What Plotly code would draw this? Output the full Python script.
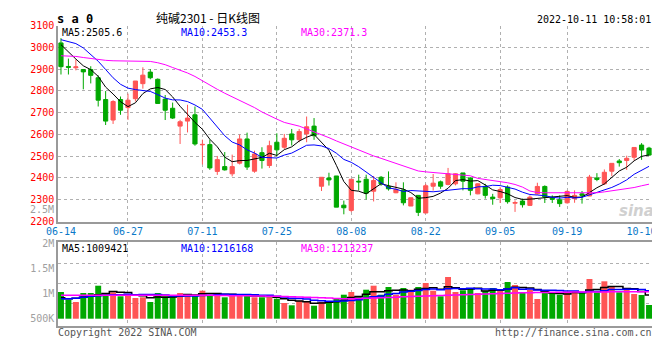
import plotly.graph_objects as go

# ---------------- data ----------------
date_labels = ["06-14", "06-27", "07-11", "07-25", "08-08", "08-22", "09-05", "09-19", "10-10"]
date_index = [0, 9, 19, 29, 39, 49, 59, 68, 78]
grid_index = [9, 19, 29, 39, 49, 59, 68]

open_ = [3020, 2912, 2906, 2898, 2898, 2860, 2760, 2666, 2760, 2723,
         2764, 2833, 2886, 2853, 2762, 2720, 2638, 2661, 2690, 2552,
         2553, 2430, 2452, 2419, 2468, 2579, 2431, 2516, 2457, 2564,
         2541, 2602, 2576, 2602, 2638, 2362, 2400, 2409, 2275, 2251,
         2385, 2394, 2339, 2403, 2361, 2332, 2345, 2271, 2320, 2239,
         2362, 2382, 2370, 2373, 2423, 2400, 2327, 2361, 2312, 2309,
         2358, 2284, 2294, 2274, 2327, 2361, 2308, 2300, 2286, 2305,
         2327, 2317, 2400, 2373, 2431, 2478, 2480, 2495, 2551, 2537]
high = [3042, 2948, 2944, 2900, 2913, 2871, 2799, 2757, 2774, 2787,
        2845, 2908, 2900, 2857, 2781, 2746, 2667, 2736, 2728, 2576,
        2576, 2501, 2519, 2507, 2599, 2608, 2525, 2541, 2571, 2605,
        2602, 2625, 2625, 2682, 2675, 2403, 2424, 2409, 2296, 2394,
        2415, 2415, 2409, 2409, 2430, 2380, 2380, 2309, 2320, 2373,
        2418, 2388, 2446, 2421, 2423, 2403, 2376, 2373, 2327, 2358,
        2366, 2297, 2305, 2320, 2378, 2366, 2320, 2320, 2343, 2343,
        2340, 2414, 2422, 2439, 2467, 2487, 2502, 2540, 2560, 2543]
low = [2875, 2875, 2894, 2807, 2834, 2728, 2643, 2648, 2690, 2667,
       2751, 2810, 2853, 2742, 2666, 2671, 2556, 2609, 2548, 2462,
       2437, 2414, 2434, 2407, 2462, 2437, 2424, 2443, 2446, 2499,
       2533, 2549, 2564, 2564, 2575, 2340, 2365, 2266, 2233, 2243,
       2342, 2301, 2292, 2364, 2342, 2330, 2274, 2271, 2225, 2239,
       2342, 2350, 2366, 2366, 2343, 2320, 2325, 2305, 2277, 2285,
       2282, 2244, 2264, 2271, 2323, 2285, 2285, 2267, 2282, 2286,
       2282, 2317, 2385, 2368, 2408, 2452, 2437, 2480, 2483, 2502]
close = [2911, 2908, 2910, 2887, 2871, 2757, 2661, 2751, 2711, 2757,
         2845, 2872, 2860, 2742, 2711, 2675, 2658, 2675, 2556, 2554,
         2446, 2484, 2437, 2452, 2579, 2450, 2510, 2480, 2548, 2529,
         2582, 2575, 2613, 2635, 2594, 2403, 2391, 2266, 2263, 2394,
         2382, 2330, 2388, 2373, 2350, 2347, 2286, 2309, 2242, 2364,
         2376, 2362, 2419, 2419, 2385, 2343, 2373, 2320, 2305, 2347,
         2291, 2287, 2277, 2312, 2361, 2312, 2302, 2282, 2338, 2320,
         2320, 2404, 2393, 2426, 2467, 2470, 2490, 2540, 2528, 2505]

ma5 = [3012, 2978, 2946, 2915, 2897.4, 2866.6, 2817.2, 2785.4, 2750.2, 2727.4,
       2745.0, 2787.2, 2809.0, 2815.2, 2806.0, 2772.0, 2729.2, 2692.2, 2655.0, 2623.6,
       2577.8, 2543.0, 2495.4, 2474.6, 2479.6, 2480.4, 2485.6, 2494.2, 2513.4, 2503.4,
       2529.8, 2542.8, 2569.4, 2586.8, 2599.8, 2564.0, 2527.2, 2457.8, 2383.4, 2343.4,
       2339.2, 2327.0, 2351.4, 2373.4, 2364.6, 2357.6, 2348.8, 2333.0, 2306.8, 2309.6,
       2315.4, 2330.6, 2352.6, 2388.0, 2392.2, 2385.6, 2387.8, 2368.0, 2345.2, 2337.6,
       2327.2, 2310.0, 2301.4, 2302.8, 2305.6, 2309.8, 2312.8, 2313.8, 2319.0, 2310.8,
       2312.4, 2332.8, 2355.0, 2372.6, 2402.0, 2432.0, 2449.2, 2478.6, 2499.0, 2505.6]
ma10 = [3035, 3027, 3017, 2997, 2967, 2936, 2898, 2860, 2830, 2812.4,
        2805.8, 2802.2, 2797.2, 2782.7, 2766.7, 2758.5, 2758.2, 2750.6, 2735.1, 2714.8,
        2674.9, 2636.1, 2593.8, 2564.8, 2551.6, 2529.1, 2514.3, 2494.8, 2494.0, 2491.5,
        2505.1, 2514.2, 2531.8, 2550.1, 2551.6, 2546.9, 2535.0, 2513.6, 2485.1, 2471.6,
        2451.6, 2427.1, 2404.6, 2378.4, 2354.0, 2348.4, 2337.9, 2342.2, 2340.1, 2337.1,
        2336.5, 2339.7, 2342.8, 2347.4, 2350.9, 2350.5, 2359.2, 2360.3, 2366.6, 2364.9,
        2356.4, 2348.9, 2334.7, 2324.0, 2321.6, 2318.5, 2311.4, 2307.6, 2310.9, 2308.2,
        2311.1, 2322.8, 2334.4, 2345.8, 2356.4, 2372.2, 2391.0, 2416.8, 2435.8, 2453.3]
ma30 = [2961, 2960, 2958, 2953, 2948, 2944, 2940, 2938, 2937, 2937,
        2936, 2936, 2935, 2929, 2920, 2907, 2895, 2882, 2866, 2845,
        2825, 2807, 2789, 2773, 2758, 2742, 2723, 2703, 2685, 2670,
        2655, 2647, 2638, 2625, 2612, 2600, 2585, 2570, 2556, 2542,
        2528, 2514, 2501, 2490, 2479, 2468, 2457, 2445, 2432, 2428,
        2425, 2422, 2421, 2419, 2416, 2410, 2398, 2393, 2389, 2385,
        2378, 2370, 2358, 2340, 2333, 2332, 2332, 2332, 2332, 2332,
        2332, 2332, 2332, 2336, 2341, 2345, 2350, 2356, 2364, 2371.3]

volume = [1034000, 880000, 834000, 1014000, 1014000, 1160000, 1000000, 1028000, 948000, 980000,
          914000, 928000, 834000, 1014000, 948000, 948000, 1014000, 994000, 974000, 1060000,
          968000, 1014000, 928000, 968000, 974000, 968000, 928000, 928000, 928000, 900000,
          814000, 768000, 860000, 848000, 760000, 834000, 848000, 914000, 980000, 1034000,
          948000, 1080000, 1160000, 980000, 1134000, 980000, 1114000, 1080000, 1134000, 1214000,
          1060000, 948000, 1334000, 1034000, 1068000, 1094000, 1014000, 1060000, 1114000, 1060000,
          1234000, 1174000, 1028000, 1080000, 894000, 1028000, 1028000, 980000, 1028000, 1048000,
          1014000, 1294000, 1028000, 1248000, 1134000, 1028000, 1094000, 994000, 974000, 774000]
vol_ma5 = [920000, 900000, 910000, 930000, 955000, 980000, 1004000, 1043000, 1030000, 1023000,
           974000, 960000, 921000, 934000, 928000, 934000, 952000, 984000, 976000, 998000,
           1002000, 1002000, 989000, 988000, 970000, 970000, 953000, 953000, 945000, 930000,
           900000, 868000, 854000, 838000, 810000, 814000, 830000, 841000, 867000, 922000,
           945000, 991000, 1040000, 1040000, 1060000, 1067000, 1074000, 1058000, 1088000, 1104000,
           1120000, 1087000, 1138000, 1118000, 1089000, 1096000, 1109000, 1054000, 1070000, 1068000,
           1096000, 1128000, 1122000, 1115000, 1082000, 1041000, 1012000, 1002000, 992000, 1022000,
           1020000, 1073000, 1082000, 1126000, 1144000, 1146000, 1106000, 1100000, 1045000, 973000]
vol_ma10 = [900000, 900000, 910000, 930000, 950000, 960000, 970000, 980000, 980000, 989000,
            977000, 982000, 982000, 982000, 976000, 954000, 956000, 953000, 955000, 963000,
            968000, 977000, 987000, 982000, 984000, 986000, 978000, 971000, 967000, 950000,
            935000, 911000, 904000, 892000, 870000, 857000, 849000, 848000, 853000, 866000,
            880000, 911000, 941000, 954000, 991000, 1006000, 1033000, 1049000, 1064000, 1082000,
            1094000, 1081000, 1098000, 1103000, 1097000, 1108000, 1098000, 1096000, 1094000, 1079000,
            1096000, 1119000, 1088000, 1093000, 1075000, 1069000, 1070000, 1062000, 1054000, 1052000,
            1031000, 1043000, 1042000, 1059000, 1083000, 1083000, 1090000, 1091000, 1086000, 1059000]
vol_ma30 = [970000, 970000, 970000, 970000, 970000, 970000, 970000, 970000, 970000, 970000,
            970000, 970000, 970000, 970000, 970000, 970000, 970000, 970000, 970000, 970000,
            970000, 965000, 965000, 960000, 960000, 960000, 955000, 955000, 950000, 950000,
            945000, 940000, 935000, 930000, 925000, 920000, 915000, 905000, 900000, 900000,
            905000, 910000, 915000, 920000, 925000, 930000, 940000, 945000, 950000, 955000,
            960000, 965000, 970000, 975000, 980000, 985000, 990000, 995000, 1000000, 1005000,
            1010000, 1015000, 1020000, 1020000, 1025000, 1025000, 1030000, 1030000, 1030000, 1035000,
            1035000, 1035000, 1035000, 1035000, 1040000, 1040000, 1040000, 1040000, 1040000, 1040000]

price_ticks = [2200, 2300, 2400, 2500, 2600, 2700, 2800, 2900, 3000, 3100]
vol_tick_vals = [2000000, 1500000, 1000000, 500000]
vol_tick_text = ["2M", "1.5M", "1M", "500K"]
vol_grid_vals = [1600000, 1200000, 800000]
VOL_BASE = 500000

# ---------------- style ----------------
RED = "#FF5555"
GREEN = "#00A800"
BORDER = "#9a9a9a"
GRID = "#b0b0b0"
MONO = "DejaVu Sans Mono"
W, H = 660, 360
L, R, T, B = 50, 11, 17, 42
PW, PH = W - L - R, H - T - B

def px(x):
    return (x - L) / PW

def py(y):
    return (T + PH - y) / PH

idx = list(range(len(close)))
bar_colors = [RED if c >= o else GREEN for o, c in zip(open_, close)]

fig = go.Figure()
fig.add_trace(go.Candlestick(
    x=idx, open=open_, high=high, low=low, close=close,
    increasing=dict(line=dict(color=RED, width=1), fillcolor=RED),
    decreasing=dict(line=dict(color=GREEN, width=1), fillcolor=GREEN),
    whiskerwidth=0, xaxis="x", yaxis="y", showlegend=False, hoverinfo="skip"))
for vals, col in [(ma5, "#000000"), (ma10, "#0000FF"), (ma30, "#FF00FF")]:
    fig.add_trace(go.Scatter(x=idx, y=vals, mode="lines", line=dict(color=col, width=1),
                             xaxis="x", yaxis="y", showlegend=False, hoverinfo="skip"))

fig.add_trace(go.Bar(x=idx, y=[v - VOL_BASE for v in volume], base=VOL_BASE,
                     marker=dict(color=bar_colors, line=dict(width=0)), width=0.8,
                     xaxis="x2", yaxis="y2", showlegend=False, hoverinfo="skip"))
for vals, col in [(vol_ma5, "#000000"), (vol_ma10, "#0000FF"), (vol_ma30, "#FF00FF")]:
    fig.add_trace(go.Scatter(x=idx, y=vals, mode="lines", line=dict(color=col, width=1.5, shape="hvh"),
                             xaxis="x2", yaxis="y2", showlegend=False, hoverinfo="skip"))

price_dom = [py(213.5), py(17.5)]
vol_dom = [py(318), py(234)]
xr = [-0.4, 79.4]

fig.update_layout(
    width=W, height=H, margin=dict(l=L, r=R, t=T, b=B),
    paper_bgcolor="white", plot_bgcolor="white", showlegend=False, boxgap=0.2,
    font=dict(family=MONO, size=10, color="#000000"),
    xaxis=dict(domain=[0, 1], anchor="y", range=xr, rangeslider=dict(visible=False),
               tickmode="array", tickvals=date_index, ticktext=date_labels,
               tickfont=dict(family=MONO, size=10, color="#0A78C8"), ticks="",
               showgrid=False, zeroline=False, showline=True, linecolor=BORDER, linewidth=1.5,
               minor=dict(tickvals=grid_index, showgrid=True, gridcolor=GRID, griddash="dot",
                          gridwidth=1, ticks="")),
    yaxis=dict(domain=price_dom, range=[2200, 3100], tickmode="array", tickvals=price_ticks,
               tickfont=dict(family=MONO, size=10, color="#FF0000"), ticks="",
               showgrid=True, gridcolor=GRID, griddash="dot", gridwidth=1, zeroline=False,
               showline=True, mirror=True, linecolor=BORDER, linewidth=1.5),
    xaxis2=dict(domain=[0, 1], anchor="y2", range=xr, matches="x", showticklabels=False, ticks="",
                showgrid=False, zeroline=False, showline=True, mirror=True, linecolor=BORDER, linewidth=1.5,
                minor=dict(tickvals=grid_index, showgrid=True, gridcolor=GRID, griddash="dot",
                           gridwidth=1, ticks="")),
    yaxis2=dict(domain=vol_dom, range=[354000, 2034000], tickmode="array", tickvals=vol_tick_vals,
                ticktext=vol_tick_text, tickfont=dict(family=MONO, size=10, color="#A0A0A0"), ticks="",
                showgrid=False, zeroline=False, showline=True, mirror=True, linecolor=BORDER, linewidth=1.5,
                minor=dict(tickvals=vol_grid_vals, showgrid=True, gridcolor=GRID, griddash="dot",
                           gridwidth=1, ticks="")),
)

def note(text, x, y, anchor="left", color="#000000", size=10, family=MONO):
    fig.add_annotation(text=text, x=px(x), y=py(y), xref="paper", yref="paper",
                       xanchor=anchor, yanchor="middle", showarrow=False, borderpad=0,
                       font=dict(family=family, size=size, color=color))

note("<b>s a 0</b>", 48, 11, size=12)
note("纯碱2301 - 日K线图", 201, 9.5, anchor="center", size=12, family="Noto Sans CJK SC")
note("2022-10-11 10:58:01", 649, 11, anchor="right")
note("MA5:2505.6", 53, 25)
note("MA10:2453.3", 173, 25, color="#0000FF")
note("MA30:2371.3", 294, 25, color="#FF00FF")
note("MA5:1009421", 53, 240)
note("MA10:1216168", 173, 240, color="#0000FF")
note("MA30:1213237", 294, 240, color="#FF00FF")
note("2.5M", 47, 201.5, anchor="right", color="#A0A0A0")
note("Copyright 2022 SINA.COM", 49, 324, color="#555555")
note("http://finance.sina.com.cn", 650, 324, anchor="right", color="#555555")
note("<b><i>sina</i></b>", 633, 203, anchor="center", color="#D0D0D0", size=15, family="DejaVu Sans")

fig.write_html("out.html")
